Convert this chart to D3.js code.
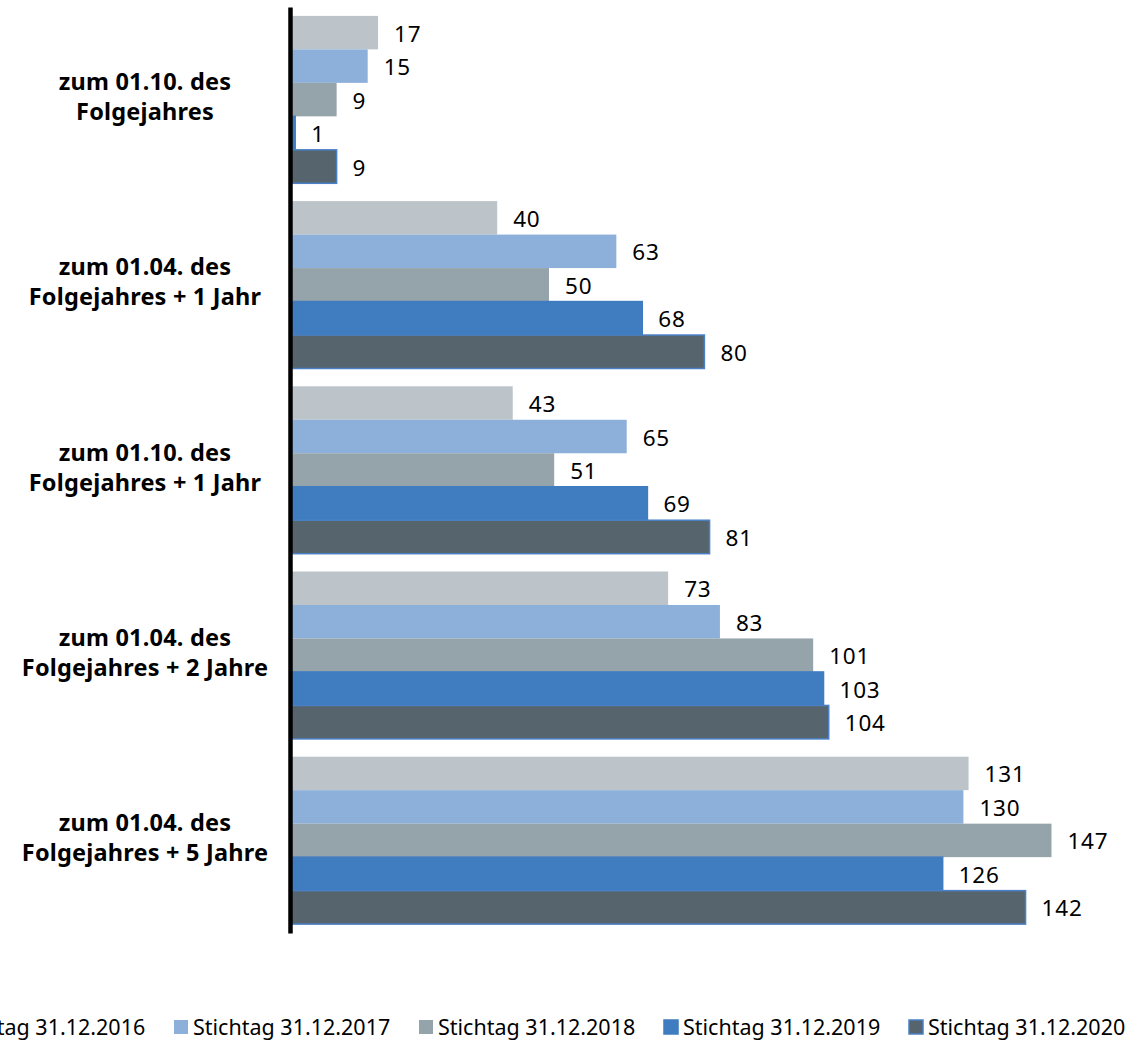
<!DOCTYPE html>
<html><head><meta charset="utf-8">
<script src="https://cdn.jsdelivr.net/npm/d3@7"></script>
<style>
html,body{margin:0;padding:0;background:#fff;}
svg{display:block;}
</style></head>
<body>
<svg id="chart" width="1134" height="1041"></svg>
<script>
const categories = [
  ["zum 01.10. des", "Folgejahres"],
  ["zum 01.04. des", "Folgejahres + 1 Jahr"],
  ["zum 01.10. des", "Folgejahres + 1 Jahr"],
  ["zum 01.04. des", "Folgejahres + 2 Jahre"],
  ["zum 01.04. des", "Folgejahres + 5 Jahre"]
];
const seriesNames = ["Stichtag 31.12.2016","Stichtag 31.12.2017","Stichtag 31.12.2018","Stichtag 31.12.2019","Stichtag 31.12.2020"];
const values2016 = [17, 40, 43, 73, 131];
const values2017 = [15, 63, 65, 83, 130];
const values2018 = [9, 50, 51, 101, 147];
const values2019 = [1, 68, 69, 103, 126];
const values2020 = [9, 80, 81, 104, 142];
const seriesValues = [values2016, values2017, values2018, values2019, values2020];
const fills = ["#bcc4c9", "#8db0da", "#95a3ab", "#3f7cc0", "#56656d"];
const strokes = [null, null, null, "#3f7cc0", "#4a80c6"];

const svg = d3.select("#chart");
const catIdx = d3.range(categories.length);

const x = d3.scaleLinear().domain([0, 150]).range([290, 290 + 150 * 5.18]);
const y = d3.scaleBand().domain(catIdx).range([7, 933]).paddingInner(0.096).paddingOuter(0.048);
const ySub = d3.scaleBand().domain(d3.range(seriesNames.length)).range([0, y.bandwidth()]);

const data = [];
catIdx.forEach(c => seriesValues.forEach((vals, s) => data.push({c, s, v: vals[c]})));

svg.append("g").selectAll("rect").data(data).enter().append("rect")
  .attr("x", x(0))
  .attr("y", d => y(d.c) + ySub(d.s))
  .attr("width", d => x(d.v) - x(0))
  .attr("height", ySub.bandwidth())
  .attr("fill", d => fills[d.s])
  .attr("stroke", d => strokes[d.s] || "none")
  .attr("stroke-width", d => strokes[d.s] ? 1.5 : 0);

svg.append("g").selectAll("text").data(data).enter().append("text")
  .attr("x", d => x(d.v) + 16)
  .attr("y", d => y(d.c) + ySub(d.s) + ySub.bandwidth() / 2 + 9)
  .attr("font-family", "'Noto Sans', sans-serif")
  .attr("font-size", 22.5)
  .attr("letter-spacing", 0.8)
  .attr("fill", "#000")
  .text(d => d.v);

// axis line
const axis = d3.axisLeft(y).tickSize(0).tickFormat("");
const axG = svg.append("g").attr("transform", `translate(${x(0)},0)`).call(axis);
axG.select(".domain").attr("stroke", "#000").attr("stroke-width", 4.5);

// category labels
const lab = svg.append("g").selectAll("text").data(catIdx).enter().append("text")
  .attr("text-anchor", "middle")
  .attr("font-family", "'Noto Sans', sans-serif")
  .attr("font-weight", "bold")
  .attr("font-size", 23.5)
  .attr("letter-spacing", 0.2)
  .attr("fill", "#000");
lab.each(function(c) {
  const t = d3.select(this);
  const cy = y(c) + y.bandwidth() / 2;
  categories[c].forEach((line, i) => {
    t.append("tspan").attr("x", 145).attr("y", cy - 9.5 + i * 30).text(line);
  });
});

// legend
const leg = svg.append("g").selectAll("g").data(seriesNames).enter().append("g")
  .attr("transform", (d, i) => `translate(${-71 + i * 245},1020)`);
leg.append("rect").attr("width", 14).attr("height", 14)
  .attr("fill", (d, i) => fills[i])
  .attr("stroke", (d, i) => strokes[i] || "none")
  .attr("stroke-width", 1.5);
leg.append("text").attr("x", 19).attr("y", 14.5)
  .attr("font-family", "'Noto Sans', sans-serif")
  .attr("font-size", 21.5)
  .attr("fill", "#000")
  .text(d => d);
</script>
</body></html>
